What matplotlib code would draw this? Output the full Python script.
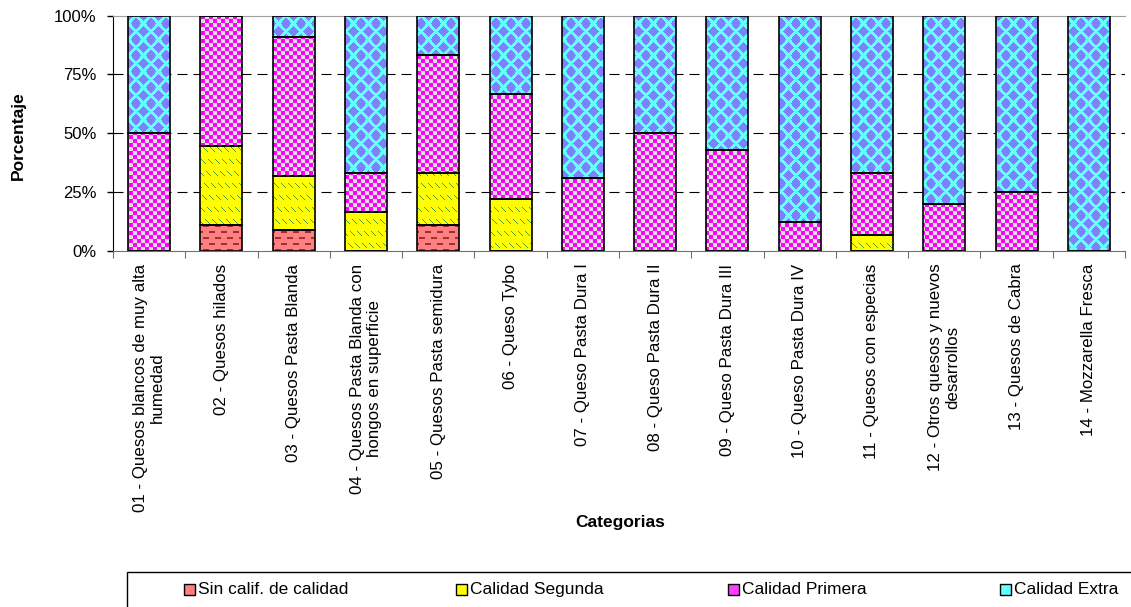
import numpy as np
import matplotlib
matplotlib.use("Agg")
import matplotlib.pyplot as plt
from matplotlib.patches import Rectangle
from matplotlib.path import Path
from matplotlib.colors import to_rgb
from matplotlib.ticker import FuncFormatter, FixedLocator

plt.rcParams['font.family'] = ['Liberation Sans', 'DejaVu Sans']

categorias = [
    "01 - Quesos blancos de muy alta\nhumedad",
    "02 - Quesos hilados",
    "03 - Quesos Pasta Blanda",
    "04 - Quesos Pasta Blanda con\nhongos en superficie",
    "05 - Quesos Pasta semidura",
    "06 - Queso Tybo",
    "07 - Queso Pasta Dura I",
    "08 - Queso Pasta Dura II",
    "09 - Queso Pasta Dura III",
    "10 - Queso Pasta Dura IV",
    "11 - Quesos con especias",
    "12 - Otros quesos y nuevos\ndesarrollos",
    "13 - Quesos de Cabra",
    "14 - Mozzarella Fresca",
]
series = ["Sin calif. de calidad", "Calidad Segunda", "Calidad Primera", "Calidad Extra"]
sin_calif = [0, 11.1, 9.1, 0, 11.1, 0, 0, 0, 0, 0, 0, 0, 0, 0]
segunda = [0, 33.3, 22.7, 16.7, 22.2, 22.2, 0, 0, 0, 0, 6.7, 0, 0, 0]
primera = [50.0, 55.6, 59.1, 16.6, 50.0, 44.5, 31.0, 50.0, 42.9, 12.5, 26.6, 20.0, 25.0, 0]
extra = [50.0, 0, 9.1, 66.7, 16.7, 33.3, 69.0, 50.0, 57.1, 87.5, 66.7, 80.0, 75.0, 100.0]
valores = [sin_calif, segunda, primera, extra]

# colores base y colores del patron
base = ['#FF8080', '#FFFF00', '#E0E0E0', '#66FFFF']
patron = ['#A03030', '#3FA03F', '#FF00FF', '#8080FF']
leyenda_color = ['#FF8080', '#FFFF00', '#FF40FF', '#66FFFF']

W_PX, H_PX = 1131, 607
fig = plt.figure(figsize=(W_PX / 100, H_PX / 100), dpi=100)
ax = fig.add_axes([113 / W_PX, 1 - 251 / H_PX, 1012 / W_PX, 235.5 / H_PX])


def textura(k, h, w):
    y, x = np.mgrid[0:h, 0:w]
    if k == 0:
        fila = y // 6
        off = (fila % 2) * 6
        mask = ((y % 6) < 2) & (((x + off) % 12) < 6)
    elif k == 1:
        mask = (((x - y) % 7) < 1) & ((y % 12) < 5)
    elif k == 2:
        mask = ((x // 4 + y // 4) % 2) == 0
    else:
        px, py = 15.0, 16.0
        dx1 = (x + px / 2) % px - px / 2
        dy1 = (y + py / 2) % py - py / 2
        dx2 = x % px - px / 2
        dy2 = y % py - py / 2
        d1 = np.abs(dx1) / (px / 2) + np.abs(dy1) / (py / 2)
        d2 = np.abs(dx2) / (px / 2) + np.abs(dy2) / (py / 2)
        mask = np.minimum(d1, d2) <= 0.72
    img = np.empty((h, w, 3))
    img[:] = to_rgb(base[k])
    img[mask] = to_rgb(patron[k])
    return img


x = np.arange(len(categorias))
ancho = 0.58
fondo = np.zeros(len(categorias))
ax.set_xlim(-0.5, len(categorias) - 0.5)
ax.set_ylim(0, 100)

for k, vals in enumerate(valores):
    barras = ax.bar(x, vals, ancho, bottom=fondo, color=base[k], edgecolor='none', zorder=2)
    rutas = [b.get_path().transformed(b.get_patch_transform()) for b in barras]
    clip = Path.make_compound_path(*rutas)
    im = ax.imshow(textura(k, 236, 1012), extent=(-0.5, len(categorias) - 0.5, 0, 100),
                   aspect='auto', interpolation='nearest', zorder=3)
    im.set_clip_path(clip, ax.transData)
    ax.bar(x, vals, ancho, bottom=fondo, facecolor='none', edgecolor='black', lw=1.2, zorder=4)
    fondo = fondo + np.array(vals)

ax.set_xlim(-0.5, len(categorias) - 0.5)
ax.set_ylim(0, 100)

for yv in [25, 50, 75]:
    ax.axhline(yv, color='black', lw=0.8, linestyle=(0, (9, 5.4)), zorder=1)

ax.spines['right'].set_visible(False)
ax.spines['top'].set_color('#A0A0A0')
ax.spines['left'].set_color('black')
ax.spines['bottom'].set_color('#707070')

ax.yaxis.set_major_locator(FixedLocator([0, 25, 50, 75, 100]))
ax.yaxis.set_major_formatter(FuncFormatter(lambda v, p: '%d%%' % v))
ax.tick_params(axis='y', length=4, width=1, color='black', pad=8, labelsize=12)

ax.set_xticks(np.arange(len(categorias) + 1) - 0.5)
ax.set_xticklabels([])
ax.set_xticks(x, minor=True)
ax.set_xticklabels(categorias, minor=True, rotation=90, ha='center', va='top',
                   multialignment='center', fontsize=12.2, linespacing=1.2)
ax.tick_params(axis='x', which='major', length=5, color='#707070')
ax.tick_params(axis='x', which='minor', length=0, pad=9)

fig.text(18 / W_PX, 1 - 136 / H_PX, 'Porcentaje', rotation=90, ha='center', va='center',
         fontsize=12.5, fontweight='bold')
fig.text(620 / W_PX, 1 - 522 / H_PX, 'Categorias', ha='center', va='center',
         fontsize=12.5, fontweight='bold')

# leyenda
fig.patches.append(Rectangle((127 / W_PX, -0.05), 1.0, 0.05 + 1 - 572 / H_PX, fill=False,
                             edgecolor='black', lw=1, transform=fig.transFigure))
for i, nombre in enumerate(series):
    x0 = 184 + i * 272
    fig.patches.append(Rectangle((x0 / W_PX, 1 - 595 / H_PX), 11 / W_PX, 11 / H_PX,
                                 facecolor=leyenda_color[i], edgecolor='black', lw=1,
                                 transform=fig.transFigure))
    fig.text((x0 + 14) / W_PX, 1 - 589.5 / H_PX, nombre, ha='left', va='center', fontsize=12.5)

fig.savefig('out.png', dpi=100)
